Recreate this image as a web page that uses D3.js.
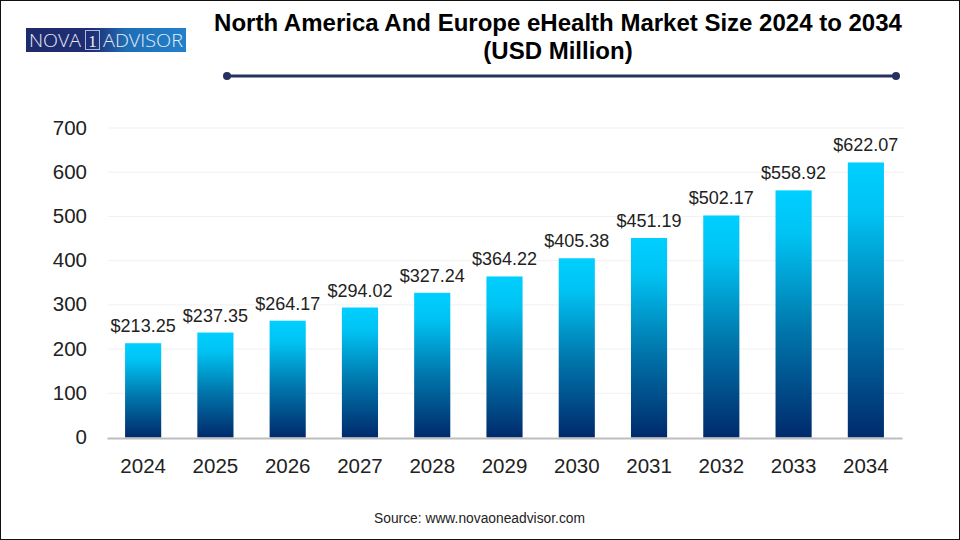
<!DOCTYPE html>
<html>
<head>
<meta charset="utf-8">
<script src="https://cdn.jsdelivr.net/npm/d3@7"></script>
<style>
  html, body { margin: 0; padding: 0; background: #fff; }
  svg { display: block; }
  text { font-family: "Liberation Sans", Arial, sans-serif; }
</style>
</head>
<body>
<div id="chart"></div>
<script>
const years = ["2024", "2025", "2026", "2027", "2028", "2029", "2030", "2031", "2032", "2033", "2034"];
const values = [213.25, 237.35, 264.17, 294.02, 327.24, 364.22, 405.38, 451.19, 502.17, 558.92, 622.07];
const yTicks = [0, 100, 200, 300, 400, 500, 600, 700];
const titleLines = ["North America And Europe eHealth Market Size 2024 to 2034", "(USD Million)"];
const sourceText = "Source: www.novaoneadvisor.com";

const width = 960, height = 540;
const svg = d3.select("#chart").append("svg").attr("width", width).attr("height", height);

const x = d3.scaleBand().domain(years).range([107, 902]).paddingInner(0.5).paddingOuter(0.25);
const y = d3.scaleLinear().domain([0, 700]).range([437.5, 128]);

// bar gradient, same for all bars
const defs = svg.append("defs");
const grad = defs.append("linearGradient").attr("id", "barGrad").attr("x1", 0).attr("y1", 0).attr("x2", 0).attr("y2", 1);
grad.append("stop").attr("offset", "0%").attr("stop-color", "#00cfff");
grad.append("stop").attr("offset", "18%").attr("stop-color", "#00c3f3");
grad.append("stop").attr("offset", "55%").attr("stop-color", "#0079ae");
grad.append("stop").attr("offset", "100%").attr("stop-color", "#002a6c");

const logoGrad = defs.append("linearGradient").attr("id", "logoGrad");
logoGrad.append("stop").attr("offset", "0%").attr("stop-color", "#1f2a6b");
logoGrad.append("stop").attr("offset", "42%").attr("stop-color", "#1f2f75");
logoGrad.append("stop").attr("offset", "62%").attr("stop-color", "#1f6db5");
logoGrad.append("stop").attr("offset", "100%").attr("stop-color", "#2281cb");

// page border
svg.append("rect").attr("x", 0.5).attr("y", 0.5).attr("width", width - 1).attr("height", height - 1)
  .attr("fill", "none").attr("stroke", "#111").attr("stroke-width", 1);

// logo
const logo = svg.append("g");
logo.append("rect").attr("x", 26).attr("y", 28).attr("width", 160).attr("height", 24).attr("fill", "url(#logoGrad)");
logo.append("text").attr("x", 29).attr("y", 47).attr("font-size", 19).attr("font-weight", 300).attr("fill", "#e4ecf8")
  .style("font-family", '"Open Sans"').attr("textLength", 52).attr("lengthAdjust", "spacingAndGlyphs").text("NOVA");
logo.append("rect").attr("x", 85.5).attr("y", 30.5).attr("width", 14).attr("height", 19)
  .attr("fill", "none").attr("stroke", "#a9bde0").attr("stroke-width", 1);
logo.append("text").attr("x", 92.5).attr("y", 46.5).attr("text-anchor", "middle").attr("font-size", 17).attr("fill", "#e4ecf8")
  .style("font-family", '"Liberation Serif"').text("1");
logo.append("text").attr("x", 103).attr("y", 47).attr("font-size", 19).attr("font-weight", 300).attr("fill", "#e4ecf8")
  .style("font-family", '"Open Sans"').attr("textLength", 80).attr("lengthAdjust", "spacingAndGlyphs").text("ADVISOR");

// title
svg.append("g").selectAll("text").data(titleLines).join("text")
  .attr("x", 558).attr("y", (d, i) => 31 + i * 28)
  .attr("text-anchor", "middle").attr("font-size", 24).attr("font-weight", "bold").attr("fill", "#000")
  .text(d => d);

// title rule with end dots
svg.append("line").attr("x1", 227).attr("x2", 896).attr("y1", 76).attr("y2", 76)
  .attr("stroke", "#27315f").attr("stroke-width", 3);
svg.append("g").selectAll("circle").data([227, 896]).join("circle")
  .attr("cx", d => d).attr("cy", 76).attr("r", 4).attr("fill", "#27315f");

// gridlines
svg.append("g").selectAll("line").data(yTicks.slice(1)).join("line")
  .attr("x1", 108).attr("x2", 904).attr("y1", d => y(d)).attr("y2", d => y(d))
  .attr("stroke", "#f1f1f1").attr("stroke-width", 1);

// y axis
const yAxis = svg.append("g").attr("transform", "translate(87,-0.5)")
  .call(d3.axisLeft(y).tickValues(yTicks).tickSize(0).tickPadding(0));
yAxis.select(".domain").remove();
yAxis.selectAll("text").attr("font-size", 20.5).attr("fill", "#222")
  .style("font-family", '"Liberation Sans", Arial, sans-serif');

// bars
svg.append("g").selectAll("rect").data(values).join("rect")
  .attr("x", (d, i) => x(years[i]))
  .attr("y", d => y(d))
  .attr("width", x.bandwidth())
  .attr("height", d => y(0) - y(d))
  .attr("fill", "url(#barGrad)");

// baseline + x axis
const xAxis = svg.append("g").attr("transform", "translate(0,438)")
  .call(d3.axisBottom(x).tickSize(0).tickPadding(20));
xAxis.select(".domain").attr("stroke", "#bdbdbd").attr("stroke-width", 2);
xAxis.selectAll("text").attr("font-size", 20.5).attr("fill", "#222")
  .style("font-family", '"Liberation Sans", Arial, sans-serif');

// value labels
svg.append("g").selectAll("text").data(values).join("text")
  .attr("x", (d, i) => x(years[i]) + x.bandwidth() / 2)
  .attr("y", d => y(d) - 11)
  .attr("text-anchor", "middle").attr("font-size", 18).attr("fill", "#222")
  .text(d => "$" + d.toFixed(2));

// source
svg.append("text").attr("x", 479.5).attr("y", 523).attr("text-anchor", "middle")
  .attr("font-size", 13.8).attr("fill", "#222").text(sourceText);
</script>
</body>
</html>
